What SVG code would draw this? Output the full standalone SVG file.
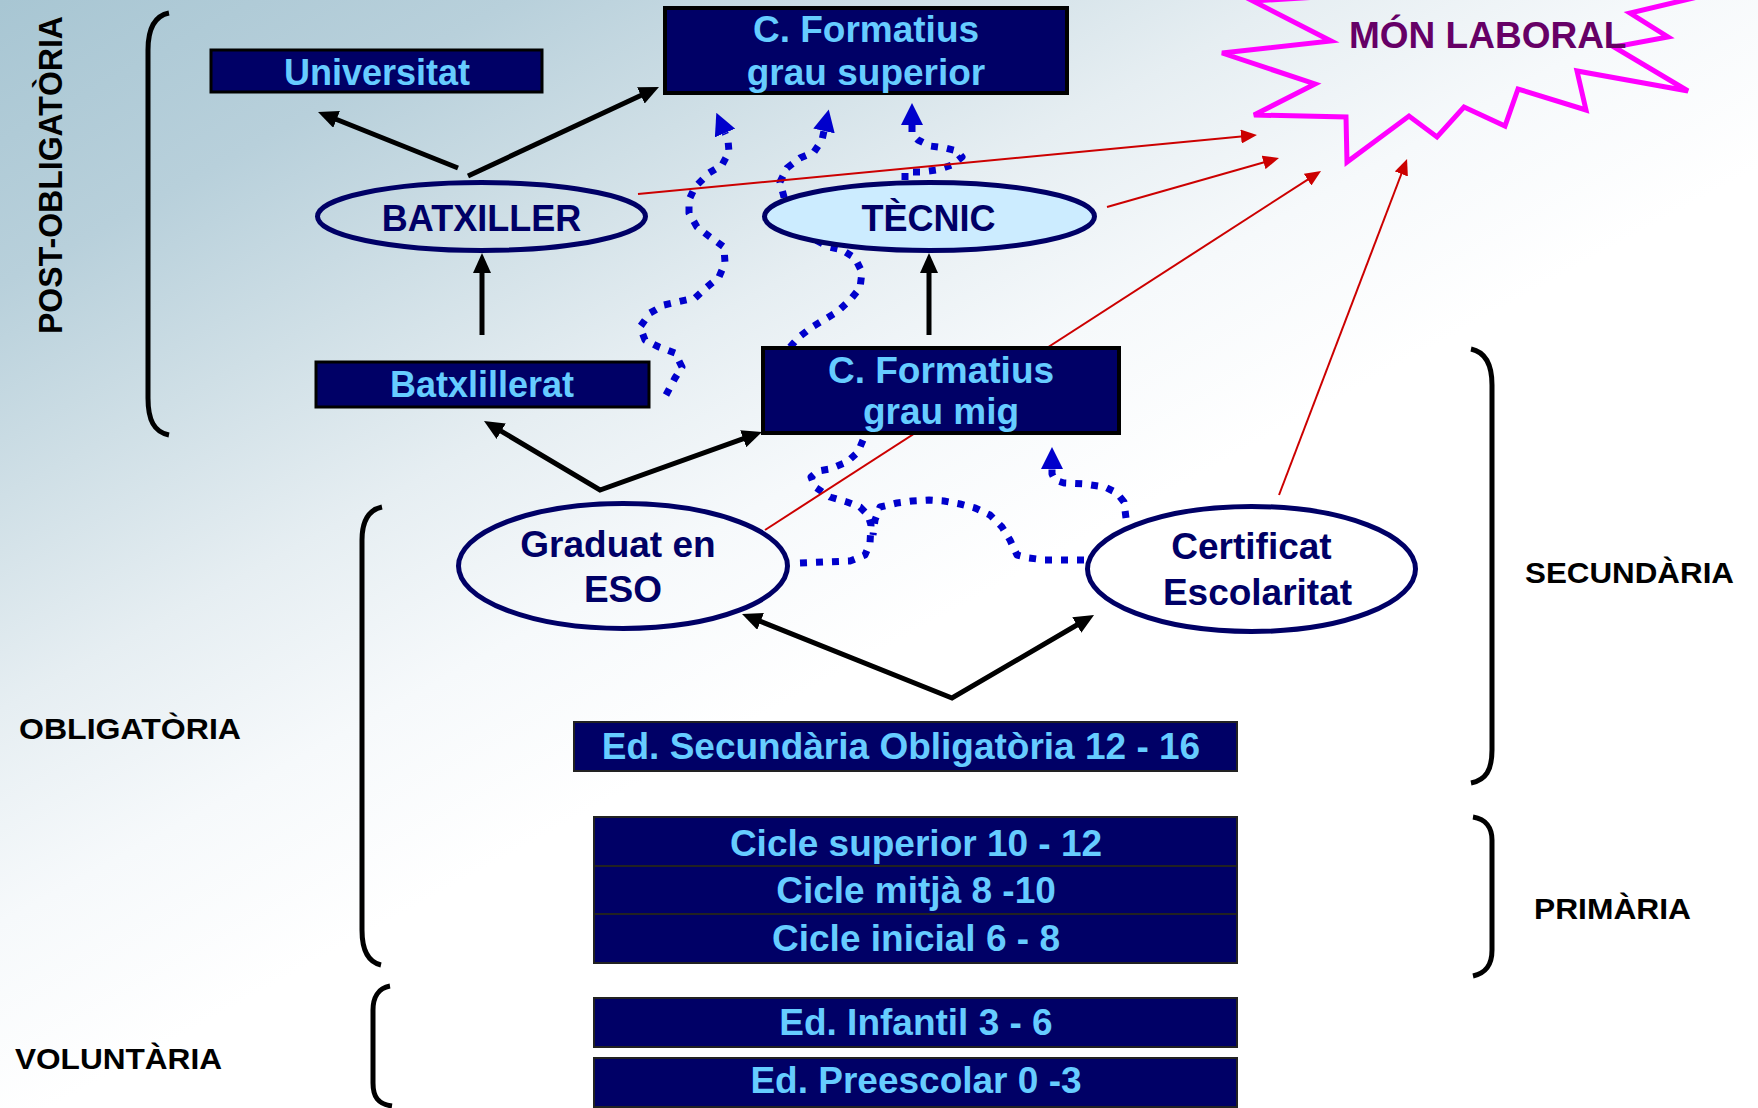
<svg xmlns="http://www.w3.org/2000/svg" width="1758" height="1108" viewBox="0 0 1758 1108">
<defs>
<linearGradient id="bg" gradientUnits="userSpaceOnUse" x1="0" y1="0" x2="600" y2="1090">
<stop offset="0" stop-color="#a8c6d3"/>
<stop offset="0.2" stop-color="#b8d0db"/>
<stop offset="0.35" stop-color="#cfdfe6"/>
<stop offset="0.5" stop-color="#e6eef2"/>
<stop offset="0.65" stop-color="#f6f9fb"/>
<stop offset="0.8" stop-color="#ffffff"/>
</linearGradient>
<marker id="ah" markerUnits="userSpaceOnUse" markerWidth="20" markerHeight="18" refX="10" refY="9" orient="auto-start-reverse"><path d="M0,0 L20,9 L0,18 z" fill="#000"/></marker>
<marker id="rh" markerUnits="userSpaceOnUse" markerWidth="16" markerHeight="14" refX="8" refY="7" orient="auto"><path d="M0,0 L16,7 L0,14 z" fill="#cc0000"/></marker>
<marker id="bh" markerUnits="userSpaceOnUse" markerWidth="22" markerHeight="22" refX="0" refY="11" orient="auto"><path d="M0,0 L22,11 L0,22 z" fill="#0000cc"/></marker>
<style>
text{font-family:"Liberation Sans",Arial,Helvetica,sans-serif;font-weight:bold}
.box{fill:#000066;stroke:#000;stroke-width:3}
.boxthick{fill:#000066;stroke:#000;stroke-width:4}
.boxthin{fill:#000066;stroke:#222;stroke-width:2}
.bt{font-size:37px;fill:#66ccff;text-anchor:middle}
.ell{fill:none;stroke:#000066;stroke-width:5}
.et{font-size:37px;fill:#000066;text-anchor:middle}
.lbl{font-size:30px;fill:#000}
.brace{fill:none;stroke:#000;stroke-width:5}
.arrow{fill:none;stroke:#000;stroke-width:5;stroke-linejoin:miter;marker-end:url(#ah)}
.red{fill:none;stroke:#cc0000;stroke-width:2;marker-end:url(#rh)}
.dots{fill:none;stroke:#0000cc;stroke-width:7;stroke-dasharray:7 9;stroke-linejoin:round}
.dotsA{marker-end:url(#bh)}
</style>
</defs>
<rect x="0" y="0" width="1758" height="1108" fill="url(#bg)"/>

<g id="brackets">
<path class="brace" d="M169,13 C154,16 148,30 148,50 L148,398 C148,420 154,432 169,435"/>
<path class="brace" d="M382,507 C368,510 362,522 362,540 L362,930 C362,950 368,962 381,965"/>
<path class="brace" d="M390,986 C378,988 373,998 373,1010 L373,1083 C373,1097 378,1104 392,1106"/>
<path class="brace" d="M1471,349 C1485,352 1492,365 1492,385 L1492,750 C1492,770 1486,780 1471,783"/>
<path class="brace" d="M1473,817 C1486,819 1492,828 1492,840 L1492,950 C1492,965 1486,973 1473,976"/>
</g>

<g id="labels">
<text class="lbl" transform="translate(62,334) rotate(-90)" font-size="34" style="font-size:34px" textLength="318" lengthAdjust="spacingAndGlyphs">POST-OBLIGATÒRIA</text>
<text class="lbl" x="19" y="739" textLength="222" lengthAdjust="spacingAndGlyphs">OBLIGATÒRIA</text>
<text class="lbl" x="15" y="1069" textLength="207" lengthAdjust="spacingAndGlyphs">VOLUNTÀRIA</text>
<text class="lbl" x="1525" y="583" textLength="209" lengthAdjust="spacingAndGlyphs">SECUNDÀRIA</text>
<text class="lbl" x="1534" y="919" textLength="157" lengthAdjust="spacingAndGlyphs">PRIMÀRIA</text>
</g>

<g id="connectors">
<path class="dots dotsA" d="M666,395 L675,378 L682,367 L675,353 L659,347 L645,340 L640,327 L650,313 L664,305 L695,298 L707,287 L719,277 L725,263 L724,247 L710,237 L697,227 L689,213 L689,200 L695,187 L709,173 L722,165 L729,152 L728,140 L725,133"/>
<path class="dots dotsA" d="M790,347 L799,337 L812,327 L837,312 L850,300 L860,288 L862,272 L855,258 L842,250 L829,247 L800,232 L786,212 L784,197 L780,182 L787,168 L800,158 L814,152 L822,140 L824,131"/>
<path class="dots dotsA" d="M905,180 L905,172 L922,172 L937,170 L952,165 L962,157 L957,151 L945,148 L930,146 L918,140 L912,134 L912,125"/>
<path class="dots" d="M800,563 L850,561 L865,555 L870,543 L871,525 L868,515 L860,507 L847,502 L830,497 L815,487 L811,477 L818,471 L830,469 L847,462 L858,452 L863,440 L865,433"/>
<path class="dots" d="M1084,560 L1045,560 L1029,558 L1017,555 L1010,540 L1002,527 L990,515 L975,508 L960,504 L944,501 L929,500 L912,501 L897,503 L880,507 L875,520 L873,535"/>
<path class="dots dotsA" d="M1126,518 L1124,502 L1117,493 L1105,487 L1085,484 L1064,483 L1055,480 L1052,474 L1052,469"/>

<line class="red" x1="638" y1="194" x2="1249" y2="135.8"/>
<line class="red" x1="1107" y1="207" x2="1271.3" y2="160.2"/>
<line class="red" x1="765" y1="530" x2="1314.3" y2="175.3"/>
<line class="red" x1="1279" y1="495" x2="1404.2" y2="166.5"/>

<line class="arrow" x1="458" y1="168" x2="327.3" y2="115.7"/>
<line class="arrow" x1="468" y1="176" x2="649.9" y2="91.2"/>
<line class="arrow" x1="482" y1="335" x2="482" y2="263"/>
<line class="arrow" x1="929" y1="335" x2="929" y2="263"/>
<path class="arrow" style="marker-start:url(#ah)" d="M492.6,426.1 L600,490 L752.6,435.4"/>
<path class="arrow" style="marker-start:url(#ah)" d="M751.3,617.7 L952,698 L1085.4,620"/>
</g>

<g id="universitat">
<rect class="box" x="211" y="50" width="331" height="42"/>
<text class="bt" x="377" y="85" style="font-size:36px">Universitat</text>
</g>
<g id="cf-superior">
<rect class="boxthick" x="665" y="8" width="402" height="85"/>
<text class="bt" x="866" y="42">C. Formatius</text>
<text class="bt" x="866" y="85">grau superior</text>
</g>
<g id="batxiller">
<ellipse class="ell" cx="481.5" cy="216.5" rx="164" ry="34"/>
<text class="et" x="481.5" y="231" style="font-size:36px">BATXILLER</text>
</g>
<g id="tecnic">
<ellipse class="ell" style="fill:#ccecff" cx="929.5" cy="216.5" rx="165" ry="34"/>
<text class="et" x="928.5" y="231" style="font-size:36px">TÈCNIC</text>
</g>
<g id="batxillerat">
<rect class="box" x="316" y="362" width="333" height="45"/>
<text class="bt" x="482" y="397" style="font-size:36px">Batxlillerat</text>
</g>
<g id="cf-mig">
<rect class="boxthick" x="763" y="348" width="356" height="85"/>
<text class="bt" x="941" y="383">C. Formatius</text>
<text class="bt" x="941" y="424">grau mig</text>
</g>
<g id="graduat-eso">
<ellipse class="ell" cx="623" cy="566" rx="164.5" ry="62.5"/>
<text class="et" x="618" y="557">Graduat en</text>
<text class="et" x="623" y="602">ESO</text>
</g>
<g id="certificat">
<ellipse class="ell" cx="1251.5" cy="569" rx="164" ry="62.5"/>
<text class="et" x="1251.5" y="559">Certificat</text>
<text class="et" x="1257.5" y="605">Escolaritat</text>
</g>
<g id="eso">
<rect class="boxthin" x="574" y="722" width="663" height="49"/>
<text class="bt" x="901" y="759">Ed. Secundària Obligatòria 12 - 16</text>
</g>
<g id="cicle-superior">
<rect class="boxthin" x="594" y="817" width="643" height="49"/>
<text class="bt" x="916" y="856">Cicle superior 10 - 12</text>
</g>
<g id="cicle-mitja">
<rect class="boxthin" x="594" y="866" width="643" height="48"/>
<text class="bt" x="916" y="903">Cicle mitjà 8 -10</text>
</g>
<g id="cicle-inicial">
<rect class="boxthin" x="594" y="914" width="643" height="49"/>
<text class="bt" x="916" y="951">Cicle inicial 6 - 8</text>
</g>
<g id="infantil">
<rect class="boxthin" x="594" y="998" width="643" height="49"/>
<text class="bt" x="916" y="1035">Ed. Infantil 3 - 6</text>
</g>
<g id="preescolar">
<rect class="boxthin" x="594" y="1058" width="643" height="49"/>
<text class="bt" x="916" y="1093">Ed. Preescolar 0 -3</text>
</g>
<g id="mon-laboral">
<path d="M1400,-8 L1253,1 L1331,41 L1222,53 L1315,84 L1254,115 L1346,117 L1347,162 L1409,116 L1437,137 L1464,107 L1505,126 L1518,89 L1586,110 L1577,71 L1688,91 L1614,47 L1668,37 L1630,13 L1740,-13 L1600,-80 Z" fill="none" stroke="#ff00ff" stroke-width="5"/>
<text x="1349" y="48" style="font-size:37px;fill:#660066">MÓN LABORAL</text>
</g>
</svg>
